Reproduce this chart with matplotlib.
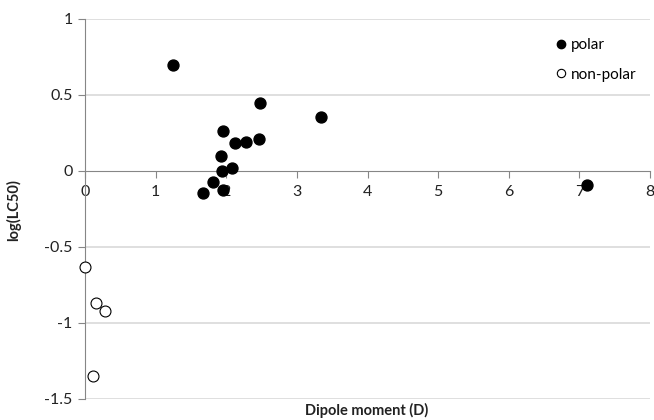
import matplotlib
matplotlib.use("Agg")
import matplotlib.pyplot as plt
from matplotlib.lines import Line2D

plt.rcParams['font.family'] = ['Lato', 'DejaVu Sans']

polar_x = [1.24, 2.48, 3.34, 1.95, 2.13, 2.285, 2.47, 1.93, 1.94, 2.08, 1.81, 1.67, 1.95, 7.11]
polar_y = [0.70, 0.445, 0.357, 0.265, 0.182, 0.193, 0.208, 0.10, 0.002, 0.018, -0.072, -0.145, -0.127, -0.092]
nonpolar_x = [0.005, 0.16, 0.28, 0.12]
nonpolar_y = [-0.63, -0.866, -0.919, -1.347]

xticks = [0, 1, 2, 3, 4, 5, 6, 7, 8]
yticks = [-1.5, -1, -0.5, 0, 0.5, 1]
ytick_labels = ['-1.5', '-1', '-0.5', '0', '0.5', '1']

fig = plt.figure(figsize=(6.54, 4.2), dpi=100)
ax = fig.add_axes([85/654, 21/420, 565/654, 380/420])

axis_col = '#868686'
grid_col = '#d9d9d9'

ax.set_xlim(0, 8)
ax.set_ylim(-1.5, 1)
for yv in yticks:
    if yv != 0:
        ax.axhline(yv, color=grid_col, lw=1.2, zorder=0)

ax.scatter(polar_x, polar_y, s=62, c='black', edgecolors='black', zorder=3)
ax.scatter(nonpolar_x, nonpolar_y, s=62, facecolors='white', edgecolors='black', linewidths=0.8, zorder=3, clip_on=False)

ax.spines['top'].set_visible(False)
ax.spines['right'].set_visible(False)
ax.spines['bottom'].set_position(('data', 0))
ax.spines['bottom'].set_color(axis_col)
ax.spines['left'].set_color(axis_col)

ax.set_xticks(xticks)
ax.set_xticklabels([str(v) for v in xticks])
ax.set_yticks(yticks)
ax.set_yticklabels(ytick_labels)
ax.tick_params(axis='x', direction='out', length=5, color=axis_col, labelsize=11.5, pad=5, labelcolor='#222222')
ax.tick_params(axis='y', direction='out', length=5, color=axis_col, labelsize=11.5, pad=4, labelcolor='#222222')

fig.text(367/654, 1 - 410/420, 'Dipole moment (D)', ha='center', va='center', fontsize=10.5, fontweight='bold', color='#222222')
fig.text(14/654, 1 - 210/420, 'log(LC50)', ha='center', va='center', rotation=90, fontsize=10.5, fontweight='bold', color='#222222')

handles = [Line2D([], [], marker='o', ls='', color='black', markersize=6),
           Line2D([], [], marker='o', ls='', markerfacecolor='white', markeredgecolor='black', markersize=6, markeredgewidth=0.8)]
ax.legend(handles, ['polar', 'non-polar'], loc='upper right', bbox_to_anchor=(1.0, 0.985), frameon=False,
          fontsize=11, handletextpad=0.15, labelspacing=1.0, handlelength=1.0)

fig.savefig('out.png', dpi=100)
